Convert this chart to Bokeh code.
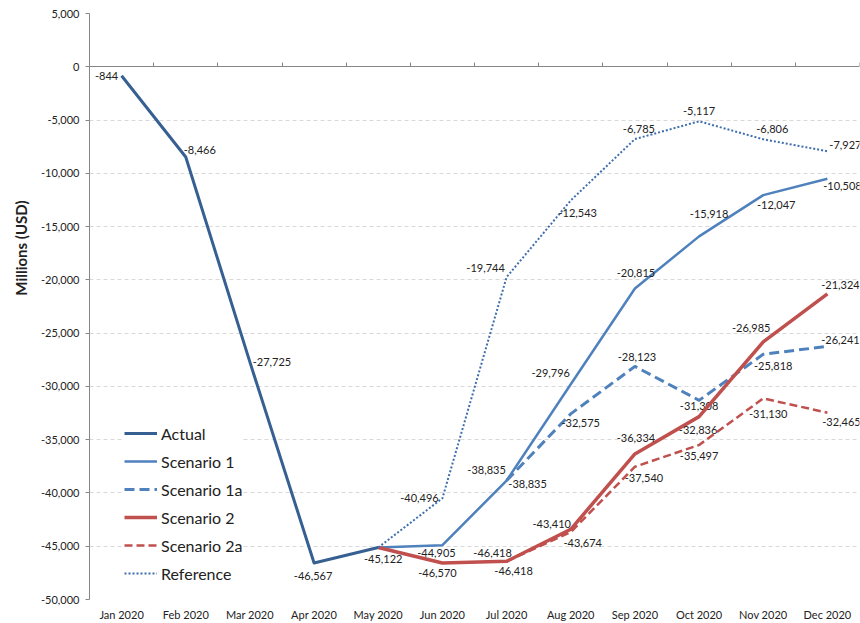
from bokeh.plotting import figure
from bokeh.models import (ColumnDataSource, FixedTicker, LinearAxis, NumeralTickFormatter,
                          Legend, LegendItem, Title, Range1d)
from bokeh.core.properties import value
from bokeh.embed import file_html
from bokeh.resources import INLINE

# ---------------- data ----------------
months = ["Jan 2020", "Feb 2020", "Mar 2020", "Apr 2020", "May 2020", "Jun 2020",
          "Jul 2020", "Aug 2020", "Sep 2020", "Oct 2020", "Nov 2020", "Dec 2020"]

# Actual: Jan..May
actual_start = 0
actual = [-844, -8466, -27725, -46567, -45122]
actual_labels = [-844, -8466, -27725, -46567, -45122]

# Scenario 1: May..Dec
scenario1_start = 4
scenario1 = [-45122, -44905, -38835, -29796, -20815, -15918, -12047, -10508]
scenario1_labels = [None, -44905, -38835, -29796, -20815, -15918, -12047, -10508]

# Scenario 1a: Jul..Dec
scenario1a_start = 6
scenario1a = [-38835, -32575, -28123, -31308, -26985, -26241]
scenario1a_labels = [-38835, -32575, -28123, -31308, -25818, -26241]

# Scenario 2: May..Dec
scenario2_start = 4
scenario2 = [-45122, -46570, -46418, -43410, -36334, -32836, -25818, -21324]
scenario2_labels = [None, -46570, -46418, -43410, -36334, -32836, -26985, -21324]

# Scenario 2a: Jul..Dec
scenario2a_start = 6
scenario2a = [-46418, -43674, -37540, -35497, -31130, -32465]
scenario2a_labels = [-46418, -43674, -37540, -35497, -31130, -32465]

# Reference: May..Dec
reference_start = 4
reference = [-45122, -40496, -19744, -12543, -6785, -5117, -6806, -7927]
reference_labels = [None, -40496, -19744, -12543, -6785, -5117, -6806, -7927]

y_ticks = [5000, 0, -5000, -10000, -15000, -20000, -25000, -30000, -35000,
           -40000, -45000, -50000]

# label placement (pixel offsets of label centre from its point)
actual_off = [(-15, 0), (14, -7), (22, 0), (-1, 13), (5, 11)]
scenario1_off = [None, (-6, 8), (-20, -11), (-20, -11), (1, -16), (10, -22), (13, 10), (15, 7)]
scenario1a_off = [(21, 3), (10, 9), (2, -9), (0, 6), (10, 12), (13, -6)]
scenario2_off = [None, (-5, 10), (7, 10), (-19, -5), (1, -16), (-1, 13), (-12, -14), (13, -9)]
scenario2a_off = [(-14, -8), (12, 11), (9, 11), (0, 11), (5, 16), (14, 9)]
reference_off = [None, (-23, 0), (-21, -9), (7, 13), (4, -10), (0, -10), (9, -10), (18, -6)]

FONT = "Lato"
TXT = "#222222"
AXC = "#868686"

p = figure(width=860, height=623, output_backend="svg", toolbar_location=None,
           x_range=Range1d(0, 12), y_range=Range1d(-50000, 5000),
           min_border_left=89, min_border_right=1, min_border_top=13, min_border_bottom=24)
p.outline_line_color = None
p.background_fill_color = "white"

# y axis
p.yaxis.ticker = FixedTicker(ticks=y_ticks)
p.yaxis.formatter = NumeralTickFormatter(format="0,0")
p.yaxis.axis_line_color = AXC
p.yaxis.major_tick_line_color = AXC
p.yaxis.major_tick_out = 4
p.yaxis.major_tick_in = 0
p.yaxis.minor_tick_line_color = None
p.yaxis.major_label_standoff = 6
p.yaxis.major_label_text_font = FONT
p.yaxis.major_label_text_font_size = "11px"
p.yaxis.major_label_text_color = TXT

# x axis labels (bottom)
centers = [i + 0.5 for i in range(len(months))]
p.xaxis.ticker = FixedTicker(ticks=centers)
p.xaxis.major_label_overrides = {c: m for c, m in zip(centers, months)}
p.xaxis.axis_line_color = None
p.xaxis.major_tick_line_color = None
p.xaxis.minor_tick_line_color = None
p.xaxis.major_tick_out = 0
p.xaxis.major_tick_in = 0
p.xaxis.major_label_standoff = 8
p.xaxis.major_label_text_font = FONT
p.xaxis.major_label_text_font_size = "11px"
p.xaxis.major_label_text_color = TXT

# zero line axis with ticks at category boundaries
bounds = list(range(len(months) + 1))
zaxis = LinearAxis(fixed_location=0, ticker=FixedTicker(ticks=bounds),
                   major_label_overrides={b: "" for b in bounds},
                   axis_line_color=AXC, major_tick_line_color=AXC, minor_tick_line_color=None,
                   major_tick_in=4, major_tick_out=0, major_label_standoff=0)
p.add_layout(zaxis, "below")

p.xgrid.visible = False
p.ygrid.ticker = FixedTicker(ticks=y_ticks)
p.ygrid.grid_line_color = "#D9D9D9"
p.ygrid.grid_line_dash = "4 3"
p.ygrid.grid_line_width = 1


def fmt(v):
    return "{:,}".format(v)


series = [
    ("Actual", actual_start, actual, actual_labels, actual_off,
     dict(line_color="#376092", line_width=3)),
    ("Scenario 1", scenario1_start, scenario1, scenario1_labels, scenario1_off,
     dict(line_color="#4F81BD", line_width=2.5)),
    ("Scenario 1a", scenario1a_start, scenario1a, scenario1a_labels, scenario1a_off,
     dict(line_color="#4F81BD", line_width=3, line_dash="10 5")),
    ("Scenario 2", scenario2_start, scenario2, scenario2_labels, scenario2_off,
     dict(line_color="#C0504D", line_width=3.5)),
    ("Scenario 2a", scenario2a_start, scenario2a, scenario2a_labels, scenario2a_off,
     dict(line_color="#C0504D", line_width=2.5, line_dash="8 4")),
    ("Reference", reference_start, reference, reference_labels, reference_off,
     dict(line_color="#3F6EAD", line_width=2, line_dash="2 2")),
]

items = []
for name, start, vals, labs, offs, style in series:
    xs = [centers[start + i] for i in range(len(vals))]
    r = p.line(xs, vals, line_join="round", **style)
    items.append(LegendItem(label=name, renderers=[r]))
    lx, ly, lt, dx, dy = [], [], [], [], []
    for i, (lab, off) in enumerate(zip(labs, offs)):
        if lab is None or off is None:
            continue
        lx.append(xs[i]); ly.append(vals[i]); lt.append(fmt(lab))
        dx.append(off[0]); dy.append(off[1])
    src = ColumnDataSource(dict(x=lx, y=ly, t=lt, dx=dx, dy=dy))
    p.text(x="x", y="y", text="t", x_offset="dx", y_offset="dy", source=src,
           text_font=value(FONT), text_font_size=value("11px"), text_color=TXT,
           text_align="center", text_baseline="middle")

legend = Legend(items=items, location=(35, 16), orientation="vertical",
                background_fill_color="white", background_fill_alpha=1.0,
                border_line_color=None, padding=4, margin=0, spacing=8,
                glyph_width=33, glyph_height=20, label_height=20, label_standoff=4,
                label_text_font=FONT, label_text_font_size="16px", label_text_color=TXT)
p.add_layout(legend)

ytitle = Title(text="Millions (USD)", align="right", offset=187, standoff=18,
               text_font=FONT, text_font_size="15px", text_font_style="bold",
               text_color=TXT)
p.add_layout(ytitle, "left")

open("out.html", "w").write(file_html(p, INLINE))
